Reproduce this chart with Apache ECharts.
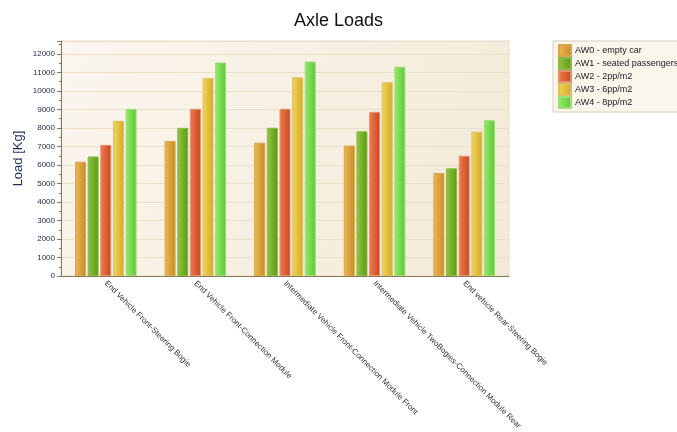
<!DOCTYPE html>
<html>
<head>
<meta charset="utf-8">
<script src="https://cdn.jsdelivr.net/npm/echarts@6/dist/echarts.min.js"></script>
<style>
  html, body { margin: 0; padding: 0; background: #fff; }
  #chart { width: 677px; height: 432px; }
</style>
</head>
<body>
<div id="chart"></div>
<script>
// categories on the x axis
var categories = [
  'End Vehicle Front-Steering Bogie',
  'End Vehicle Front-Connection Module',
  'Intermediate Vehicle Front-Connection Module Front',
  'Intermediate Vehicle TwoBogies-Connection Module Rear',
  'End vehicle Rear-Steering Bogie'
];

// load series (kg)
var aw0 = [6180, 7300, 7210, 7050, 5570];
var aw1 = [6460, 8010, 8010, 7820, 5820];
var aw2 = [7090, 9040, 9040, 8870, 6500];
var aw3 = [8390, 10700, 10740, 10470, 7800];
var aw4 = [9030, 11540, 11590, 11310, 8420];

var seriesNames = [
  'AW0 - empty car',
  'AW1 - seated passengers only',
  'AW2 - 2pp/m2',
  'AW3 - 6pp/m2',
  'AW4 - 8pp/m2'
];

var font = '"Liberation Sans", Tahoma, sans-serif';

function grad (light, dark) {
  return new echarts.graphic.LinearGradient(0, 0, 1, 0, [
    { offset: 0, color: light },
    { offset: 1, color: dark }
  ]);
}

var styles = [
  { c: grad('#ecba55', '#c98a22'), b: '#d7a650' },
  { c: grad('#92c843', '#5a9812'), b: '#8ab64a' },
  { c: grad('#ef7d50', '#c9461d'), b: '#e39070' },
  { c: grad('#f3d658', '#d2a82b'), b: '#dcc068' },
  { c: grad('#94ec66', '#5cc63a'), b: '#9edc7c' }
];

var allData = [aw0, aw1, aw2, aw3, aw4];

var series = allData.map(function (d, i) {
  return {
    name: seriesNames[i],
    type: 'bar',
    data: d,
    barWidth: 11,
    barGap: '15%',
    itemStyle: { color: styles[i].c, borderColor: styles[i].b, borderWidth: 1 }
  };
});

var chart = echarts.init(document.getElementById('chart'));

chart.setOption({
  animation: false,
  title: {
    text: 'Axle Loads',
    left: 'center',
    top: 7,
    textStyle: { fontFamily: font, fontSize: 18, fontWeight: 'normal', color: '#111' }
  },
  legend: {
    orient: 'vertical',
    left: 553,
    top: 41,
    padding: [3, 60, 3, 5],
    itemWidth: 12,
    itemHeight: 11,
    itemGap: 0,
    icon: 'rect',
    backgroundColor: '#fbf6ec',
    borderColor: '#d8cfbd',
    borderWidth: 1,
    textStyle: { fontFamily: font, fontSize: 9, lineHeight: 11, color: '#222', padding: [0, 0, 0, -1] },
    data: seriesNames
  },
  grid: {
    left: 61,
    right: 168,
    top: 41,
    bottom: 153,
    show: true,
    borderWidth: 1,
    borderColor: '#e6dccb',
    backgroundColor: new echarts.graphic.LinearGradient(0, 0, 1, 1, [
      { offset: 0, color: '#fbf6ee' },
      { offset: 1, color: '#f3e9d6' }
    ])
  },
  xAxis: {
    type: 'category',
    data: categories,
    axisLine: { lineStyle: { color: '#8c7a4c', width: 1 } },
    axisTick: { show: false },
    axisLabel: {
      rotate: -45,
      interval: 0,
      margin: 6,
      fontFamily: font,
      fontSize: 8,
      color: '#333'
    }
  },
  yAxis: {
    type: 'value',
    min: 0,
    max: 12700,
    interval: 1000,
    name: 'Load [Kg]',
    nameLocation: 'middle',
    nameMoveOverlap: false,
    nameGap: 36,
    nameTextStyle: { fontFamily: font, fontSize: 13, color: '#1d2d5c' },
    axisLine: { show: true, lineStyle: { color: '#8c7a4c', width: 1 } },
    axisTick: { show: true, length: 4, lineStyle: { color: '#8c7a4c' } },
    minorTick: { show: true, splitNumber: 2, length: 2, lineStyle: { color: '#8c7a4c' } },
    axisLabel: {
      fontFamily: font,
      fontSize: 8,
      color: '#1f2740',
      margin: 6,
      showMaxLabel: false,
      formatter: function (v) { return v % 1000 === 0 ? String(v) : ''; }
    },
    splitLine: { lineStyle: { color: '#e9dfca', width: 1 } }
  },
  series: series
});
</script>
</body>
</html>
